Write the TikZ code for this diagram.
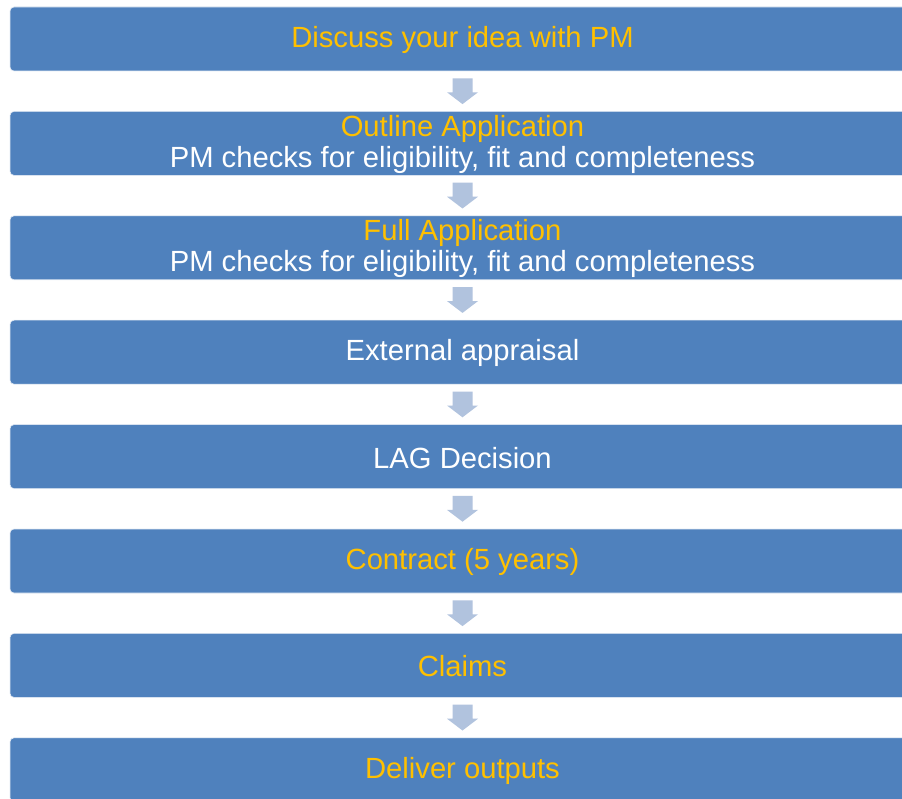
\documentclass[tikz,border=0pt]{standalone}
\usepackage{fontspec}
\setmainfont{Liberation Sans}
\usetikzlibrary{calc}
\definecolor{boxblue}{HTML}{4F81BD}
\definecolor{txtorange}{HTML}{FFC000}
\definecolor{arrowblue}{HTML}{B1C3DE}
\tikzset{
  flowbox/.style={rectangle, rounded corners=4pt, fill=boxblue, draw=white!85!boxblue, line width=0.6pt,
    minimum width=905pt, minimum height=64pt, inner sep=0pt,
    label={[align=center, inner sep=0pt, yshift=-1pt, font=\fontsize{29.2}{31}\selectfont]center:#1}},
  flowarrow/.style={fill=arrowblue, draw=none}
}
\newcommand\flowarrowbetween[2]{%
  \fill[flowarrow] ($(#1.south)+(-10,-7)$) -- ($(#1.south)+(10,-7)$) -- ($(#1.south)+(10,-21)$)
    -- ($(#1.south)+(15.5,-21)$) -- ($(#2.north)+(0,7)$) -- ($(#1.south)+(-15.5,-21)$)
    -- ($(#1.south)+(-10,-21)$) -- cycle;}
\begin{document}
\begin{tikzpicture}[x=1pt,y=1pt]
\useasboundingbox (0,0) rectangle (902,-799);
\fill[white] (0,0) rectangle (902,-799);
\begin{scope}
\clip (0,0) rectangle (902,-799);
\node[flowbox={\textcolor{txtorange}{Discuss your idea with PM}}] (b1) at (462.5,-39) {};
\node[flowbox={\textcolor{txtorange}{Outline Application}\\\textcolor{white}{PM checks for eligibility, fit and completeness}}] (b2) at (462.5,-143.4) {};
\node[flowbox={\textcolor{txtorange}{Full Application}\\\textcolor{white}{PM checks for eligibility, fit and completeness}}] (b3) at (462.5,-247.8) {};
\node[flowbox={\textcolor{white}{External appraisal}}] (b4) at (462.5,-352.2) {};
\node[flowbox={\textcolor{white}{LAG Decision}}] (b5) at (462.5,-456.6) {};
\node[flowbox={\textcolor{txtorange}{Contract (5 years)}}] (b6) at (462.5,-561) {};
\node[flowbox={\textcolor{txtorange}{Claims}}] (b7) at (462.5,-665.4) {};
\node[flowbox={\textcolor{txtorange}{Deliver outputs}}] (b8) at (462.5,-769.8) {};
\end{scope}
\flowarrowbetween{b1}{b2}
\flowarrowbetween{b2}{b3}
\flowarrowbetween{b3}{b4}
\flowarrowbetween{b4}{b5}
\flowarrowbetween{b5}{b6}
\flowarrowbetween{b6}{b7}
\flowarrowbetween{b7}{b8}
\end{tikzpicture}
\end{document}
